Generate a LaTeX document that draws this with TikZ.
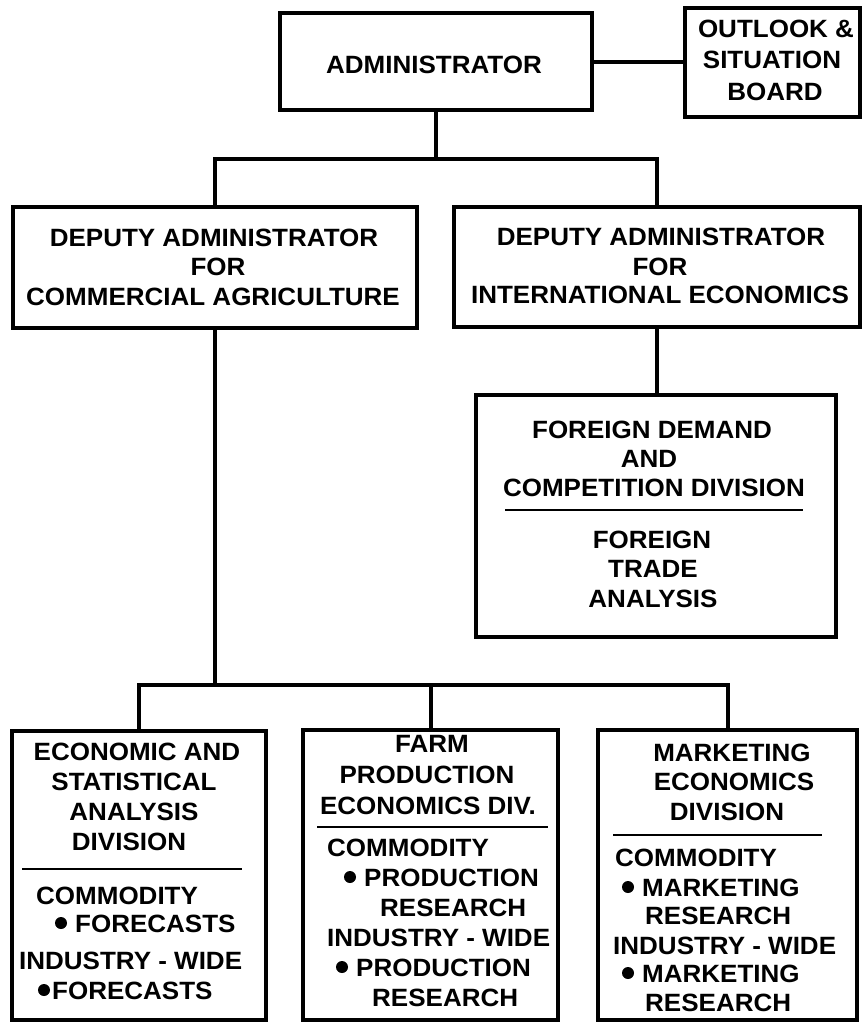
\documentclass[tikz,border=0pt]{standalone}
\usepackage{fontspec}
\newfontfamily\chartfont[FakeStretch=1.04]{Liberation Sans}
\begin{document}
\begin{tikzpicture}[x=1pt,y=-1pt,
  box/.style={draw,line width=3.5pt,inner sep=0pt,rectangle},
  link/.style={line width=4pt},
  rule/.style={line width=2pt},
  ctxt/.style={font=\chartfont\bfseries\fontsize{25}{30}\selectfont,inner sep=0pt,anchor=base},
  ltxt/.style={ctxt,anchor=base west},
  dot/.style={circle,fill=black,inner sep=0pt,minimum size=12pt}]
\useasboundingbox (0,0) rectangle (862,1023);

% boxes
\node[box,minimum width=312pt,minimum height=97pt]  (admin)   at (436,61.5) {};
\node[box,minimum width=175pt,minimum height=109pt] (outlook) at (772.5,62.5) {};
\node[box,minimum width=404pt,minimum height=121pt] (depL)    at (215,267.5) {};
\node[box,minimum width=406pt,minimum height=120pt] (depR)    at (657,267) {};
\node[box,minimum width=360pt,minimum height=242pt] (foreign) at (656,516) {};
\node[box,minimum width=254pt,minimum height=289pt] (esa)     at (139,875.5) {};
\node[box,minimum width=255pt,minimum height=290pt] (fpe)     at (430.5,875) {};
\node[box,minimum width=259pt,minimum height=290pt] (med)     at (727.5,875) {};

% connectors
\coordinate (busA) at (436,159);
\coordinate (busB) at (215,685);
\draw[link] (admin.east) -- (outlook.west |- admin.east);
\draw[link] (admin.south) -- (busA);
\draw[link] (depL.north) |- (busA) -| (depR.north);
\draw[link] (depR.south) -- (depR.south |- foreign.north);
\draw[link] (depL.south) -- (busB);
\draw[link] (esa.north) |- (busB) -| (med.north);
\draw[link] (busB -| fpe.north) -- (fpe.north);

% separators inside division boxes
\draw[rule] (505,510) -- (803,510);
\draw[rule] (22,869) -- (242,869);
\draw[rule] (317,827) -- (548,827);
\draw[rule] (613,835) -- (822,835);

% top level
\node[ctxt] (tAdmin) at (434,73) {ADMINISTRATOR};
\node[ctxt] (tOut1) at (776,37) {OUTLOOK \&};
\node[ctxt] (tOut2) at (772,68) {SITUATION};
\node[ctxt] (tOut3) at (775,100) {BOARD};

% deputies
\node[ctxt] (tDL1) at (214,246) {DEPUTY ADMINISTRATOR};
\node[ctxt] (tDL2) at (218,275) {FOR};
\node[ctxt] (tDL3) at (213,305) {COMMERCIAL AGRICULTURE};
\node[ctxt] (tDR1) at (661,245) {DEPUTY ADMINISTRATOR};
\node[ctxt] (tDR2) at (660,275) {FOR};
\node[ctxt] (tDR3) at (660,303) {INTERNATIONAL ECONOMICS};

% foreign demand division
\node[ctxt] (tF1) at (652,438) {FOREIGN DEMAND};
\node[ctxt] (tF2) at (649,467) {AND};
\node[ctxt] (tF3) at (654,496) {COMPETITION DIVISION};
\node[ctxt] (tF4) at (652,548) {FOREIGN};
\node[ctxt] (tF5) at (653,577) {TRADE};
\node[ctxt] (tF6) at (653,607) {ANALYSIS};

% economic and statistical analysis division
\node[ctxt] (tE1) at (137,760) {ECONOMIC AND};
\node[ctxt] (tE2) at (134,790) {STATISTICAL};
\node[ctxt] (tE3) at (134,820) {ANALYSIS};
\node[ctxt] (tE4) at (129,850) {DIVISION};
\node[ltxt] (tE5) at (36,904) {COMMODITY};
\node[dot]  (bE1) at (61,923) {};
\node[ltxt] (tE6) at (75,932) {FORECASTS};
\node[ltxt] (tE7) at (19,969) {INDUSTRY - WIDE};
\node[dot]  (bE2) at (44,990) {};
\node[ltxt] (tE8) at (52,999) {FORECASTS};

% farm production economics division
\node[ctxt] (tP1) at (432,752) {FARM};
\node[ctxt] (tP2) at (427,783) {PRODUCTION};
\node[ctxt] (tP3) at (428,814) {ECONOMICS DIV.};
\node[ltxt] (tP4) at (327,856) {COMMODITY};
\node[dot]  (bP1) at (350,877) {};
\node[ltxt] (tP5) at (364,886) {PRODUCTION};
\node[ltxt] (tP6) at (380,916) {RESEARCH};
\node[ltxt] (tP7) at (327,946) {INDUSTRY - WIDE};
\node[dot]  (bP2) at (342,967) {};
\node[ltxt] (tP8) at (356,976) {PRODUCTION};
\node[ltxt] (tP9) at (372,1006) {RESEARCH};

% marketing economics division
\node[ctxt] (tM1) at (732,761) {MARKETING};
\node[ctxt] (tM2) at (734,790) {ECONOMICS};
\node[ctxt] (tM3) at (727,820) {DIVISION};
\node[ltxt] (tM4) at (615,866) {COMMODITY};
\node[dot]  (bM1) at (628,887) {};
\node[ltxt] (tM5) at (642,896) {MARKETING};
\node[ltxt] (tM6) at (645,924) {RESEARCH};
\node[ltxt] (tM7) at (613,954) {INDUSTRY - WIDE};
\node[dot]  (bM2) at (628,973) {};
\node[ltxt] (tM8) at (642,982) {MARKETING};
\node[ltxt] (tM9) at (645,1011) {RESEARCH};
\end{tikzpicture}
\end{document}
